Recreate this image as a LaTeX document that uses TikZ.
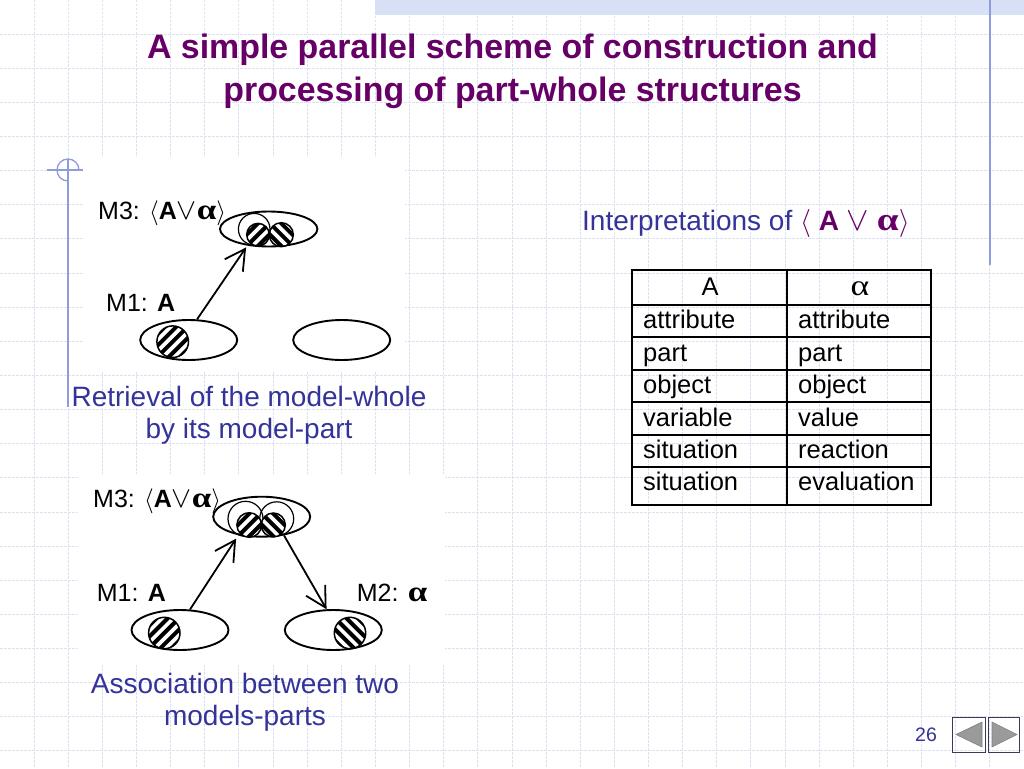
\documentclass[tikz,border=0pt]{standalone}
\usepackage{fix-cm}
\usepackage{fontspec}
\setmainfont{Liberation Sans}
\newfontfamily\grk{Liberation Serif}
\usetikzlibrary{shapes.geometric,arrows.meta}
\definecolor{purp}{HTML}{660066}
\definecolor{slate}{HTML}{333399}
\definecolor{gridc}{HTML}{DDE1F2}
\definecolor{bandc}{HTML}{D8E0F6}
\definecolor{accent}{HTML}{8F9CDB}
\definecolor{navb}{HTML}{3A3A5A}
\definecolor{navf}{HTML}{9A9A9A}
\tikzset{
 gridl/.style={draw=gridc, line width=0.9pt, dash pattern=on 2.5pt off 1.5pt},
 ell/.style={ellipse, draw=black, line width=1.9pt, minimum width=97pt, minimum height=40pt, inner sep=0pt},
 ocirc/.style={draw=black, line width=1.2pt},
 arr/.style={line width=1.8pt, -{Straight Barb[length=20pt,width=22pt]}},
 lbl/.style={anchor=base west, inner sep=0pt, font=\fontsize{25}{30}\selectfont},
 captxt/.style={anchor=base, inner sep=0pt, text=slate, font=\fontsize{28}{34}\selectfont},
 tcell/.style={anchor=base west, inner sep=0pt, font=\fontsize{25.5}{30}\selectfont},
 tbl/.style={draw=black, line width=2pt},
 ttl/.style={anchor=base, inner sep=0pt, text=purp, font=\fontsize{33.9}{40}\selectfont\bfseries},
 accentl/.style={draw=accent, line width=1.3pt},
}
\newcommand\hatchc[4]{%
  \begin{scope}
    \clip (#1,#2) circle[radius=#3];
    \fill[white] (#1,#2) circle[radius=#3];
    \foreach \hh in {-4,...,4}{
      \draw[line width=4pt, shift={(#1,#2)}, rotate=#4] (-25,\hh*8) -- (25,\hh*8);
    }
  \end{scope}
  \draw[line width=1.5pt] (#1,#2) circle[radius=#3];
}
\newcommand\grka{\scalebox{1.4}[1.15]{\grk\bfseries α}}
\newcommand\grkr{\scalebox{1.4}[1.15]{\grk α}}
\newcommand\myvee{\scalebox{1.2}{$\vee$}}
\begin{document}
\begin{tikzpicture}[x=1pt,y=-1pt]
\useasboundingbox (0,0) rectangle (1024,768);
% background
\fill[white] (0,0) rectangle (1024,768);
\foreach \i in {1,...,29} \draw[gridl] (\i*34.133,0) -- (\i*34.133,768);
\foreach \j in {1,...,22} \draw[gridl] (0,\j*34.133) -- (1024,\j*34.133);
\fill[bandc] (375,0) rectangle (1024,15.5);
\draw[accentl] (990,0) -- (990,265);
\draw[accentl] (47,170) -- (83,170);
\draw[accentl] (79,170) arc[start angle=0, end angle=-270, radius=11];
\draw[accentl] (68,159) -- (68,407);
\fill[white] (83,157) rectangle (405,372);
\fill[white] (78,474) rectangle (445,665);

% title
\node[ttl] (t1) at (512.5,58.5) {A simple parallel scheme of construction and};
\node[ttl] (t2) at (512.5,101) {processing of part-whole structures};

% interpretations
\node[anchor=base west, inner sep=0pt, font=\fontsize{28}{34}\selectfont] (interp) at (582,230)
  {\textcolor{slate}{Interpretations of }\textcolor{purp}{$\langle$ \textbf{A} \myvee{} \grka$\rangle$}};

% table
\draw[tbl] (632,270) rectangle (931,505);
\draw[tbl] (787,270) -- (787,505);
\foreach \yy in {304.5,337,369.5,402,434.5,467} \draw[tbl] (632,\yy) -- (931,\yy);
\node[tcell, anchor=base] (hA) at (710,295) {A};
\node[tcell, anchor=base] (hal) at (860,295) {\grkr};
\node[tcell] (a1) at (643,328) {attribute};
\node[tcell] (b1) at (798,328) {attribute};
\node[tcell] (a2) at (643,361) {part};
\node[tcell] (b2) at (798,361) {part};
\node[tcell] (a3) at (643,393) {object};
\node[tcell] (b3) at (798,393) {object};
\node[tcell] (a4) at (643,426) {variable};
\node[tcell] (b4) at (798,426) {value};
\node[tcell] (a5) at (643,458) {situation};
\node[tcell] (b5) at (798,458) {reaction};
\node[tcell] (a6) at (643,490) {situation};
\node[tcell] (b6) at (798,490) {evaluation};

% top diagram
\node[ell, minimum height=35pt, minimum width=97.4pt] (m3t) at (268.7,229) {};
\draw[ocirc] (254.2,229.2) circle[radius=15.8];
\hatchc{258}{234.7}{11.3}{45}
\hatchc{281.3}{234.7}{12}{-45}
\node[ell] (m1t) at (188.7,340) {};
\hatchc{172.7}{341.7}{15.8}{45}
\node[ell] (m2t) at (341.7,340) {};
\node[lbl] (l3t) at (98,219.5) {M3: $\langle$\textbf{A}\myvee\grka$\rangle$};
\node[lbl] (l1t) at (106,311.7) {M1: \textbf{A}};
\draw[arr] (m1t.68) -- ([yshift=-2pt]m3t.216);
\node[captxt] (c1) at (249,406.5) {Retrieval of the model-whole};
\node[captxt] (c2) at (249,438.5) {by its model-part};

% bottom diagram
\node[ell] (m3b) at (261.7,516.7) {};
\draw[ocirc] (245.5,518.8) circle[radius=17.5];
\draw[ocirc] (276.7,518.8) circle[radius=17];
\hatchc{249.2}{525}{12.3}{45}
\hatchc{273.3}{525}{12}{-45}
\node[ell] (m1b) at (180,630) {};
\hatchc{164.3}{633}{15.7}{45}
\node[ell] (m2b) at (333.3,630) {};
\hatchc{350}{633}{15.7}{-45}
\node[lbl] (l3b) at (93,507) {M3: $\langle$\textbf{A}\myvee\grka$\rangle$};
\node[lbl] (l1b) at (96.7,601) {M1: \textbf{A}};
\node[lbl] (l2b) at (356.7,601) {M2: \grka};
\draw[arr] (m1b.64) -- ([yshift=-4pt]m3b.215);
\draw[arr] (m3b.320) -- (m2b.108);
\node[captxt] (c3) at (245,693) {Association between two};
\node[captxt] (c4) at (245,725) {models-parts};

% page number and navigation
\node[anchor=base, inner sep=0pt, text=slate, font=\fontsize{19.5}{22}\selectfont] (pg) at (926,741.5) {26};
\draw[navb, line width=1pt] (952,717) rectangle (985,752);
\draw[navb, line width=1pt] (988,717) rectangle (1019,752);
\filldraw[fill=navf, draw=gray, line width=0.6pt] (956,734.5) -- (982,722) -- (982,747) -- cycle;
\filldraw[fill=navf, draw=gray, line width=0.6pt] (992,722) -- (992,747) -- (1017,734.5) -- cycle;
\end{tikzpicture}
\end{document}
